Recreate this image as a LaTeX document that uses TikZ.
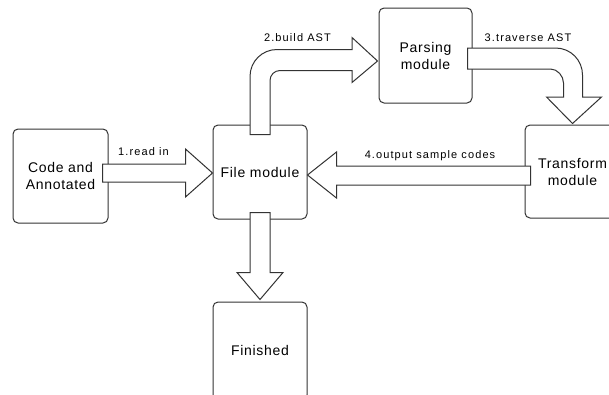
\documentclass[tikz,border=0pt]{standalone}
\usepackage{fontspec}
\setmainfont{Liberation Sans}
\usetikzlibrary{calc}
\tikzset{
  modbox/.style={draw=black!80, line width=1pt, fill=white, rounded corners=5pt,
    align=center, inner sep=0pt, font=\fontsize{14}{17}\selectfont\addfontfeature{LetterSpace=5}},
  blockarrow/.style={draw=black!80, line width=1pt, fill=white, line join=miter},
  steplabel/.style={inner sep=0pt, font=\fontsize{11}{13}\selectfont\addfontfeature{LetterSpace=10}}
}
\begin{document}
\begin{tikzpicture}[x=1pt, y=-1pt]
\useasboundingbox (0,0) rectangle (609,394);

% modules
\node[modbox, minimum width=95pt, minimum height=94pt] (code) at (60.5,176) {Code and\\Annotated};
\node[modbox, minimum width=94pt, minimum height=94pt] (file) at (260,172) {File module};
\node[modbox, minimum width=93pt, minimum height=95pt] (parsing) at (425.5,55.5) {Parsing\\module};
\node[modbox, minimum width=95pt, minimum height=93pt] (transform) at (572.5,171.5) {Transform\\module};
\node[modbox, minimum width=94pt, minimum height=98pt] (finished) at (260,351) {};
\node[modbox, draw=none, fill=none] (finishedtext) at (260,350) {Finished};

% 1. read in
\draw[blockarrow] ($(code.east)+(-6,-12)$) -- ($(code.east)+(77,-12)$)
  -- ($(code.east)+(77,-27)$) -- ($(file.west)+(0,1)$)
  -- ($(code.east)+(77,21)$) -- ($(code.east)+(77,6)$)
  -- ($(code.east)+(-6,6)$) -- cycle;
\node[steplabel] (l1) at (143.5,151.5) {1.read in};

% 2. build AST
\draw[blockarrow] ($(file.north)+(-10,10)$) -- ($(file.north)+(-10,-48)$)
  .. controls ($(file.north)+(-10,-63)$) and ($(file.north)+(2,-75)$) .. ($(file.north)+(17,-75)$)
  -- ($(file.north)+(92,-75)$) -- ($(file.north)+(92,-87)$)
  -- ($(parsing.west)+(-1,5.5)$)
  -- ($(file.north)+(92,-42)$) -- ($(file.north)+(92,-54)$)
  -- ($(file.north)+(20,-54)$)
  .. controls ($(file.north)+(14.5,-54)$) and ($(file.north)+(10,-49.5)$) .. ($(file.north)+(10,-44)$)
  -- ($(file.north)+(10,10)$) -- cycle;
\node[steplabel] (l2) at (297.5,37.5) {2.build AST};

% 3. traverse AST
\draw[blockarrow] ($(parsing.east)+(-5,-7.5)$) -- ($(parsing.east)+(83,-7.5)$)
  .. controls ($(parsing.east)+(98,-7.5)$) and ($(parsing.east)+(110,4.5)$) .. ($(parsing.east)+(110,19.5)$)
  -- ($(parsing.east)+(110,41.5)$) -- ($(parsing.east)+(129,41.5)$)
  -- ($(transform.north)+(0,-1)$)
  -- ($(parsing.east)+(74,41.5)$) -- ($(parsing.east)+(91,41.5)$)
  -- ($(parsing.east)+(91,27.5)$)
  .. controls ($(parsing.east)+(91,20.5)$) and ($(parsing.east)+(85,13.5)$) .. ($(parsing.east)+(78,13.5)$)
  -- ($(parsing.east)+(-5,13.5)$) -- cycle;
\node[steplabel] (l3) at (528,37.5) {3.traverse AST};

% 4. output sample codes
\draw[blockarrow] ($(transform.west)+(6,-5.5)$) -- ($(file.east)+(29,-6)$)
  -- ($(file.east)+(29,-20)$) -- ($(file.east)+(0,3)$)
  -- ($(file.east)+(29,26)$) -- ($(file.east)+(29,13)$)
  -- ($(transform.west)+(6,13.5)$) -- cycle;
\node[steplabel] (l4) at (430,156) {4.output sample codes};

% 5. finish
\draw[blockarrow] ($(file.south)+(-10,-7)$) -- ($(file.south)+(-10,53)$)
  -- ($(file.south)+(-23,53)$) -- ($(finished.north)+(0,-2)$)
  -- ($(file.south)+(23,53)$) -- ($(file.south)+(10,53)$)
  -- ($(file.south)+(10,-7)$) -- cycle;
\end{tikzpicture}
\end{document}
